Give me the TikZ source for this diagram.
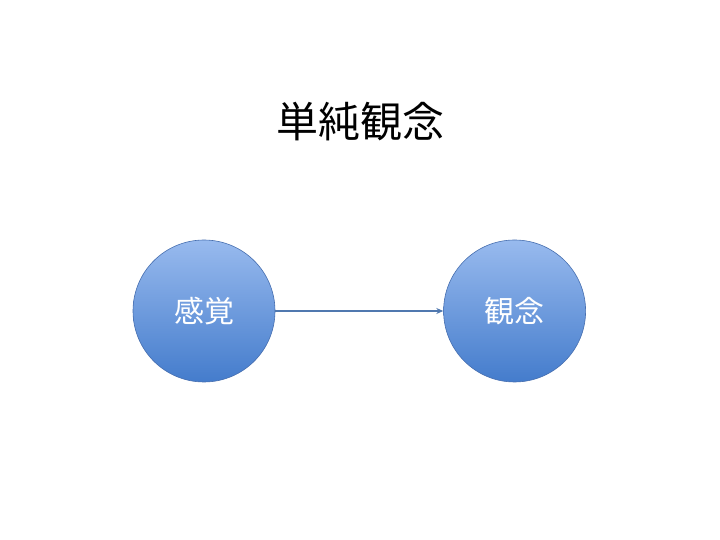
\documentclass[tikz,border=0pt]{standalone}
\usepackage{fontspec}
\newfontfamily\cjk{Noto Sans CJK JP}
\usepackage{tikz}
\usetikzlibrary{positioning,arrows.meta}
\definecolor{ideatop}{RGB}{152,186,238}
\definecolor{ideabot}{RGB}{68,124,204}
\definecolor{idearim}{RGB}{70,110,175}
\definecolor{linkblue}{RGB}{80,120,175}

\begin{document}
\begin{tikzpicture}[x=1pt,y=1pt,
	idea/.style={circle,minimum size=142pt,inner sep=0pt,draw=idearim,line width=0.6pt,top color=ideatop,bottom color=ideabot,text=white,font=\cjk\fontsize{30}{30}\selectfont},
	link/.style={-{Stealth[length=7pt,width=6pt]},draw=linkblue,line width=1.2pt}]
	\useasboundingbox (0,0) rectangle (720,540);
	% title
	\node[font=\cjk\fontsize{42}{42}\selectfont] (title) at (360,418) {単純観念};
	
	% draw nodes
	\node[idea] (sense) at (204,229) {感覚};
	\node[idea,right=168pt of sense] (concept) {観念};
	
	% arrow
	\draw[link] (sense) -- (concept);
\end{tikzpicture}
\end{document}
